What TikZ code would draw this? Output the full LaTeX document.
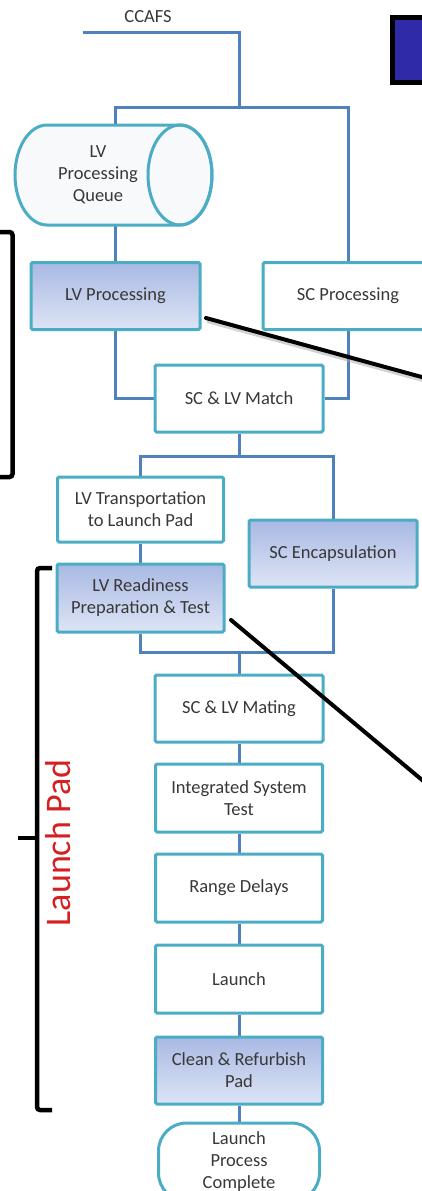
\documentclass[tikz,border=0pt]{standalone}
\usepackage{fontspec}
\setmainfont{Carlito}
\usetikzlibrary{calc}
\definecolor{edgeteal}{HTML}{4BACC6}
\definecolor{linkblue}{HTML}{4F81BD}
\definecolor{gradtop}{HTML}{A9B9E3}
\definecolor{gradbot}{HTML}{DDE4F5}
\definecolor{labelgray}{HTML}{383838}
\definecolor{padred}{HTML}{D42020}
\definecolor{tagblue}{HTML}{2E2AA8}
\definecolor{cylfill}{HTML}{F8F9FA}
\pgfdeclarelayer{bg}
\pgfsetlayers{bg,main}

\begin{document}
\begin{tikzpicture}[x=1pt,y=-1pt,
  every node/.style={font=\fontsize{18.5}{22}\selectfont, text=labelgray, align=center},
  stepbox/.style={draw=edgeteal, line width=3pt, fill=white, rounded corners=1.5pt,
    inner sep=0pt, minimum width=167pt, minimum height=67pt},
  shadedbox/.style={stepbox, top color=gradtop, bottom color=gradbot},
  link/.style={draw=linkblue, line width=3pt},
  pointer/.style={draw=black, line width=4pt, line cap=round},
  bracket/.style={draw=black, line width=4.5pt, rounded corners=3pt}
]
\useasboundingbox (0,0) rectangle (422,1191);
\clip (0,0) rectangle (422,1191);

% source label and corner tag
\node (ccafs) at (148,17) {CCAFS};
\node[draw=black, line width=5pt, fill=tagblue, inner sep=0pt,
      minimum width=60pt, minimum height=65pt] (tag) at (422.5,50) {};

% launch vehicle queue (horizontal cylinder)
\draw[edgeteal, line width=3pt, fill=cylfill]
  (47,125) arc[start angle=270, end angle=90, x radius=32, y radius=50]
  -- (180,225) arc[start angle=90, end angle=-90, x radius=32, y radius=50] -- cycle;
\draw[edgeteal, line width=3pt] (180,175) ellipse[x radius=32, y radius=50];
\node[minimum width=197pt, minimum height=100pt, inner sep=0pt] (queue) at (98,175)
  {LV\\Processing\\Queue};

% process steps
\node[shadedbox, minimum width=169pt] (lvproc) at (115.5,296) {LV Processing};
\node[stepbox, minimum width=170pt] (scproc) at (348,296) {SC Processing};
\node[stepbox, minimum width=168pt] (match) at (239,398.5) {SC \& LV Match};
\node[stepbox, minimum width=166pt, minimum height=65pt] (lvtrans) at (140.5,509.5)
  {LV Transportation\\to Launch Pad};
\node[shadedbox, minimum width=168pt] (scenc) at (333,553.5) {SC Encapsulation};
\node[shadedbox, minimum width=167pt, minimum height=68pt] (lvready) at (140.5,598)
  {LV Readiness\\Preparation \& Test};
\node[stepbox, minimum width=168pt] (mating) at (239,708.5) {SC \& LV Mating};
\node[stepbox, minimum width=167pt, minimum height=68pt] (integ) at (239,798)
  {Integrated System\\Test};
\node[stepbox, minimum width=167pt, minimum height=68pt] (range) at (239,888) {Range Delays};
\node[stepbox, minimum width=167pt, minimum height=68pt] (launch) at (239,979) {Launch};
\node[shadedbox, minimum width=167pt, minimum height=67pt] (clean) at (239,1070.5)
  {Clean \& Refurbish\\Pad};
\node[stepbox, rounded corners=28pt, minimum width=161pt, minimum height=78pt] (done)
  at (239,1162) {Launch\\Process\\Complete};

% flow connectors
\coordinate (feed) at (83,32);
\coordinate (split) at (239,107);
\coordinate (fork) at (239,456);
\coordinate (join) at (239,652);
\begin{pgfonlayer}{bg}
  \draw[link] (feed) -| (split);
  \draw[link] (lvproc.north |- queue.north) |- (split) -| (scproc.north);
  \draw[link] (lvproc.north |- queue.south) -- (lvproc.north);
  \draw[link] (lvproc.south) |- (match.west);
  \draw[link] (scproc.south) |- (match.east);
  \draw[link] (match.south) -- (fork);
  \draw[link] (lvtrans.north) |- (fork) -| (scenc.north);
  \draw[link] (lvtrans.south) -- (lvready.north);
  \draw[link] (lvready.south) |- (join) -| (scenc.south);
  \draw[link] (join) -- (mating.north);
  \draw[link] (mating.south) -- (integ.north);
  \draw[link] (integ.south) -- (range.north);
  \draw[link] (range.south) -- (launch.north);
  \draw[link] (launch.south) -- (clean.north);
  \draw[link] (clean.south) -- (done.north);
\end{pgfonlayer}

% call-out pointers
\coordinate (lvprocTip) at (206,318);
\coordinate (lvprocEnd) at (440,382);
\coordinate (lvreadyTip) at (231,620);
\coordinate (lvreadyEnd) at (440,795);
\draw[black!35, line width=4pt, opacity=0.5] ($(lvprocTip)+(1,3)$) -- ($(lvprocEnd)+(1,3)$);
\draw[pointer] (lvprocTip) -- (lvprocEnd);
\draw[pointer] (lvreadyTip) -- (lvreadyEnd);

% grouping brackets
\draw[bracket] (-5,232) -- (12.5,232) -- (12.5,477) -- (-5,477);
\draw[bracket] (52,568) -- (37,568) -- (37,1110) -- (52,1110);
\draw[black, line width=4.5pt] (37,838) -- (18,838);
\node[rotate=90, text=padred, font=\fontsize{36}{40}\selectfont] (padlabel) at (58,843)
  {Launch Pad};
\end{tikzpicture}
\end{document}
